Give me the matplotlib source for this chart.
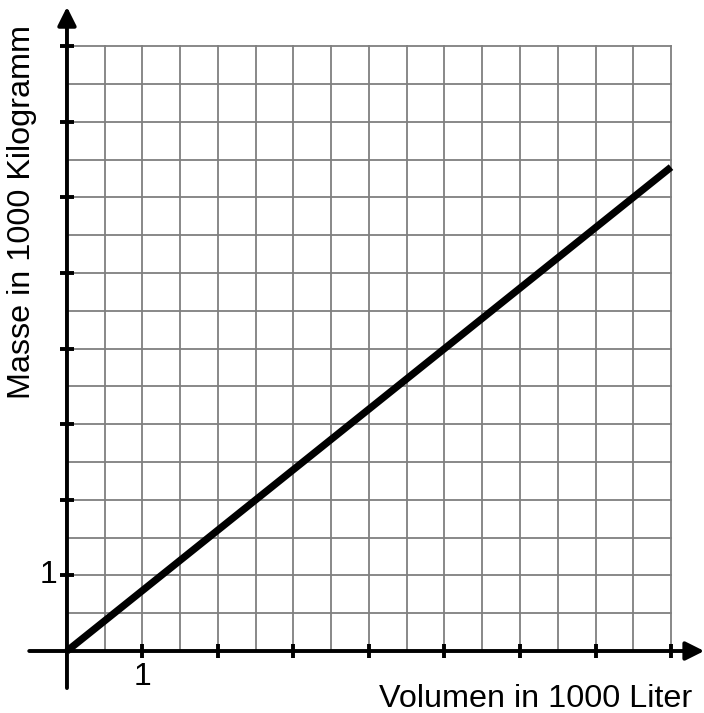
import numpy as np
import matplotlib
matplotlib.use('Agg')
from matplotlib import pyplot as plt

plt.rcParams['font.family'] = ['Liberation Sans', 'DejaVu Sans']

# data
volume = [0, 8]          # 1000 Liter
mass = [0, 6.4]          # 1000 Kilogramm
grid_steps = np.arange(0, 8.01, 0.5)
x_ticks = [1, 2, 3, 4, 5, 6, 7, 8]
y_ticks = [1, 2, 3, 4, 5, 6, 7, 8]
x_label = 'Volumen in 1000 Liter'
y_label = 'Masse in 1000 Kilogramm'

fig = plt.figure(figsize=(7.04, 7.13), dpi=100)
ax = fig.add_axes([0, 0, 1, 1])
ax.set_xlim(-0.887, 8.437)
ax.set_ylim(-0.820, 8.611)
ax.axis('off')

# grid
for g in grid_steps:
    ax.plot([g, g], [0, 8], color='#7f7f7f', lw=1.3, zorder=1)
    ax.plot([0, 8], [g, g], color='#7f7f7f', lw=1.3, zorder=1)

# axes with arrows
ax.annotate('', xy=(8.44, 0), xytext=(-0.5, 0),
            arrowprops=dict(arrowstyle='-|>', lw=2.8, color='k',
                            mutation_scale=28, shrinkA=0, shrinkB=0), zorder=3)
ax.annotate('', xy=(0, 8.52), xytext=(0, -0.49),
            arrowprops=dict(arrowstyle='-|>', lw=2.8, color='k',
                            mutation_scale=28, shrinkA=0, shrinkB=0), zorder=3)

# ticks
for t in x_ticks:
    ax.plot([t, t], [-0.09, 0.09], color='k', lw=2.8, solid_capstyle='butt', zorder=3)
for t in y_ticks:
    ax.plot([-0.09, 0.09], [t, t], color='k', lw=2.8, solid_capstyle='butt', zorder=3)

ax.text(1, -0.34, '1', ha='center', va='center', fontsize=23)
ax.text(-0.25, 1, '1', ha='center', va='center', fontsize=23)

# data line
ax.plot(volume, mass, color='k', lw=5.2, solid_capstyle='butt', zorder=4)

ax.text(8.28, -0.74, x_label, ha='right', va='baseline', fontsize=23.3)
ax.text(-0.59, 5.81, y_label, ha='center', va='center', rotation=90, fontsize=23.3)

fig.savefig('out.png', dpi=100)
